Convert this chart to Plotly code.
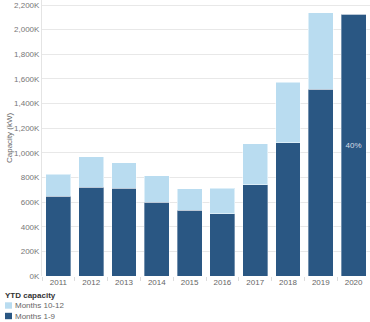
import plotly.graph_objects as go

years = ["2011", "2012", "2013", "2014", "2015", "2016", "2017", "2018", "2019", "2020"]
months_1_9 = [646, 722, 714, 600, 532, 505, 740, 1084, 1517, 2125]
months_10_12 = [181, 248, 207, 216, 176, 209, 333, 489, 621, 0]
labels_1_9 = ["", "", "", "", "", "", "", "", "", "40%"]
y_ticks = [0, 200, 400, 600, 800, 1000, 1200, 1400, 1600, 1800, 2000, 2200]
y_title = "Capacity (kW)"
legend_title = "YTD capacity"
legend_names = ["Months 10-12", "Months 1-9"]

FONT = "Liberation Sans, Arial, sans-serif"
DARK = "#2a5783"
LIGHT = "#b9dcf0"
FS = 8

W, H = 370, 322
ML, MR, MT, MB = 42, 0, 0, 46
PW, PH = W - ML - MR, H - MT - MB


def px_x(x):
    return (x - ML) / PW


def px_y(y):
    return (H - MB - y) / PH


fig = go.Figure()
fig.add_trace(go.Bar(
    x=years, y=months_1_9, name=legend_names[1],
    marker=dict(color=DARK, line=dict(color="rgba(255,255,255,0.35)", width=1)),
    text=labels_1_9, textposition="inside", insidetextanchor="middle", textangle=0,
    textfont=dict(color="#d8dde6", size=FS, family=FONT),
    hoverinfo="x+y",
))
fig.add_trace(go.Bar(
    x=years, y=months_10_12, name=legend_names[0],
    marker=dict(color=LIGHT, line=dict(color="rgba(255,255,255,0.5)", width=1)),
    hoverinfo="x+y",
))

shapes = []
annotations = [
    dict(
        text=y_title, xref="paper", yref="paper", textangle=-90,
        x=px_x(9), y=px_y(138), xanchor="center", yanchor="middle", showarrow=False,
        font=dict(size=FS, color="#666666", family=FONT),
    ),
    dict(
        text="<b>" + legend_title + "</b>", xref="paper", yref="paper",
        x=px_x(3), y=px_y(295), xanchor="left", yanchor="middle", showarrow=False,
        font=dict(size=FS, color="#333333", family=FONT),
    ),
]
# manual compact legend (below the plot, at the left edge)
for name, color, yc in [(legend_names[0], LIGHT, 305.5), (legend_names[1], DARK, 316)]:
    shapes.append(dict(
        type="rect", xref="paper", yref="paper",
        x0=px_x(5), x1=px_x(12), y0=px_y(yc - 3.2), y1=px_y(yc + 3.2),
        fillcolor=color, line=dict(width=0),
    ))
    annotations.append(dict(
        text=name, xref="paper", yref="paper",
        x=px_x(12.5), y=px_y(yc), xanchor="left", yanchor="middle", showarrow=False,
        font=dict(size=FS, color="#666666", family=FONT),
    ))

fig.update_layout(
    width=W, height=H,
    barmode="stack", bargap=0.24,
    margin=dict(l=ML, r=MR, t=MT, b=MB, autoexpand=False),
    plot_bgcolor="white", paper_bgcolor="white",
    font=dict(family=FONT, size=FS, color="#666666"),
    showlegend=False,
    shapes=shapes, annotations=annotations,
    uniformtext=dict(minsize=7, mode="show"),
)
fig.update_xaxes(
    type="category", tickson="boundaries", ticks="outside", ticklen=4,
    tickcolor="#dddddd", showgrid=False, showline=False, tickangle=0,
    automargin=False,
    tickfont=dict(size=FS, color="#666666"),
)
fig.update_yaxes(
    range=[0, 2241], tickvals=y_ticks,
    ticktext=[f"{v:,}K" for v in y_ticks],
    showgrid=True, gridcolor="#e8e8e8", gridwidth=1,
    showline=True, linecolor="#e4e4e4", zeroline=False,
    automargin=False,
    tickfont=dict(size=FS, color="#777777"),
)

fig.write_html("out.html")
